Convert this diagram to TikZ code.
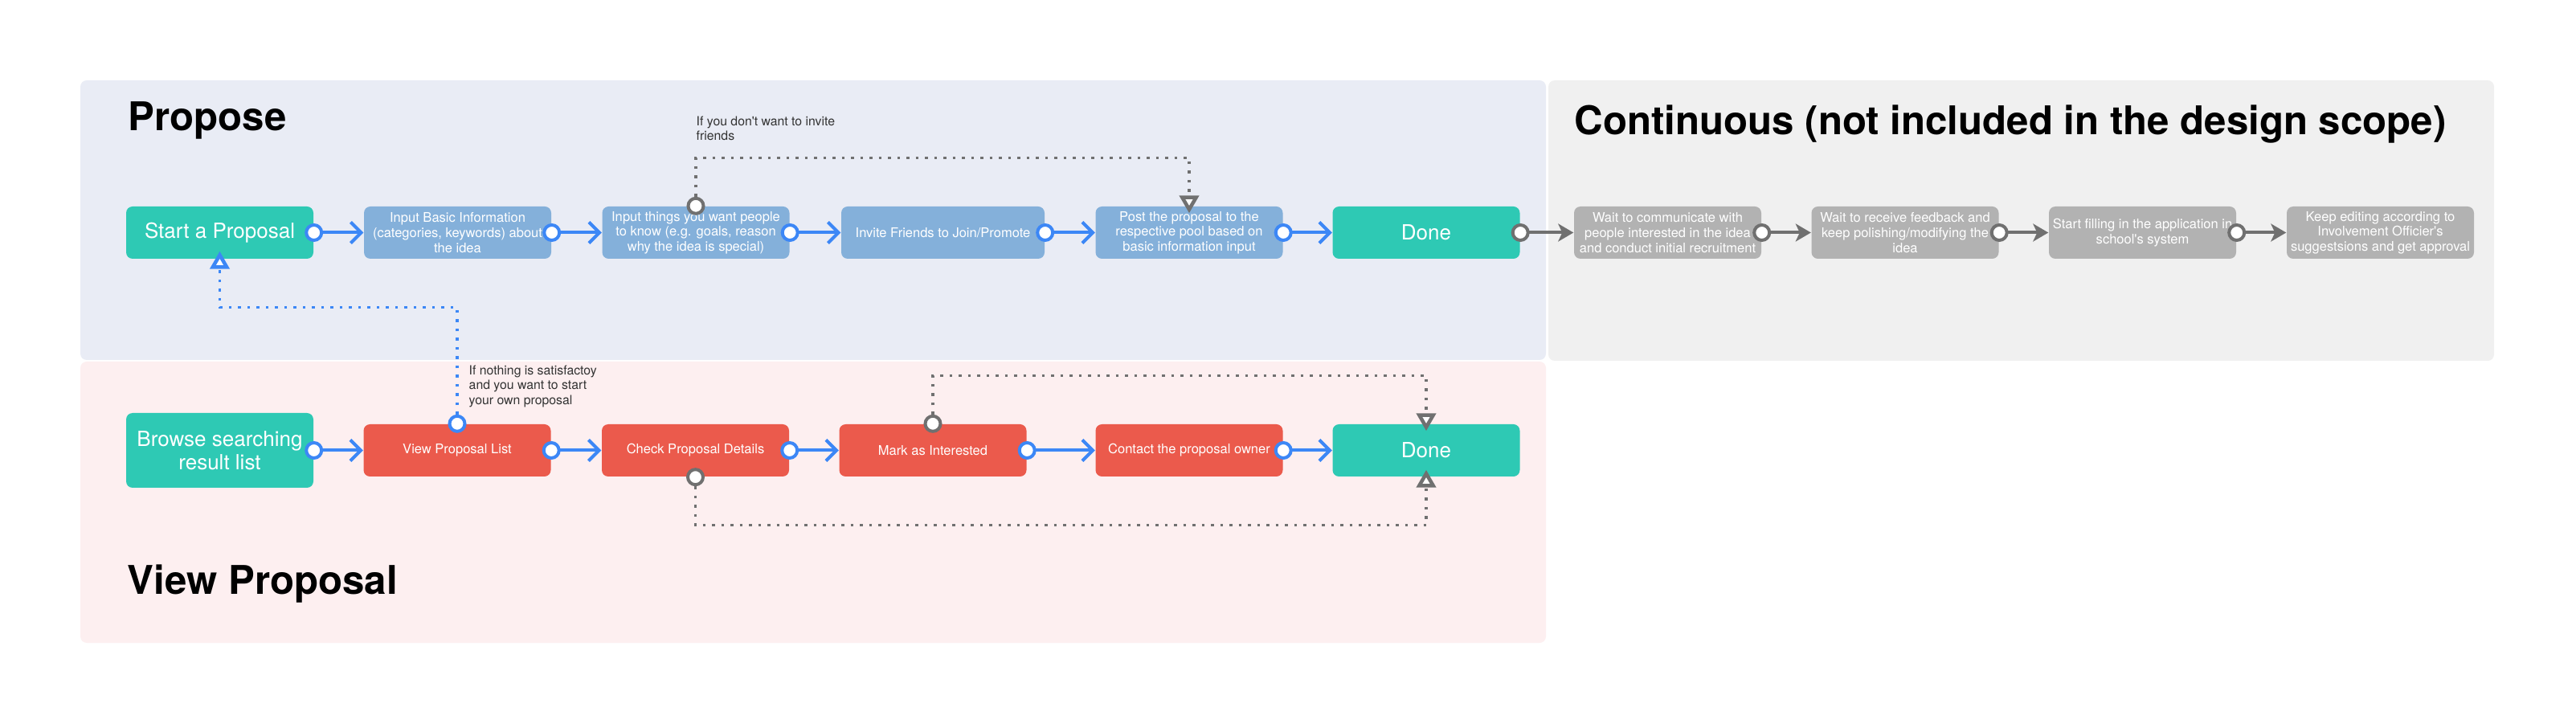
\documentclass[tikz,border=0pt]{standalone}
\usepackage{fontspec}
\setmainfont{TeX Gyre Heros}
\usetikzlibrary{arrows.meta}

\definecolor{proposebg}{HTML}{E9ECF5}
\definecolor{viewbg}{HTML}{FDEFF0}
\definecolor{contbg}{HTML}{F0F0F0}
\definecolor{donegreen}{HTML}{2EC9B4}
\definecolor{stepblue}{HTML}{84B0DA}
\definecolor{stepred}{HTML}{EB5A4C}
\definecolor{stepgrey}{HTML}{B2B2B2}
\definecolor{flowblue}{HTML}{3C87F6}
\definecolor{flowgrey}{HTML}{707070}
\definecolor{notegrey}{HTML}{333333}

\tikzset{
    box/.style={rounded corners=0.8mm, text=white, align=center, inner sep=0.3mm,
        minimum height=6.5mm, minimum width=23.3mm},
    bigbox/.style={box, fill=donegreen, font=\fontsize{7.4}{8.4}\selectfont},
    infobox/.style={box, fill=stepblue, font=\fontsize{4.7}{5.3}\selectfont},
    redbox/.style={box, fill=stepred, font=\fontsize{4.7}{5.3}\selectfont},
    greybox/.style={box, fill=stepgrey, font=\fontsize{4.7}{5.3}\selectfont},
    lanetitle/.style={anchor=base west, inner sep=0pt, font=\fontsize{14}{16}\selectfont\bfseries},
    note/.style={anchor=north west, inner sep=0pt, align=left, text=notegrey,
        font=\fontsize{4.5}{5.3}\selectfont},
    flow/.style={draw=flowblue, line width=0.4mm, -{Straight Barb[length=1.3mm,width=2.6mm]}},
    contflow/.style={draw=flowgrey, line width=0.4mm, -{Stealth[length=1.9mm,width=2.2mm,inset=0.5mm]}},
    loopline/.style={line width=0.35mm, dash pattern=on 0.35mm off 0.8mm},
    backblue/.style={loopline, draw=flowblue, -{Triangle[length=2.2mm,width=2.4mm,fill=white,line width=0.45mm]},
        shorten >=-1mm},
    backgrey/.style={loopline, draw=flowgrey, -{Triangle[length=2.2mm,width=2.4mm,fill=white,line width=0.45mm]},
        shorten >=-0.9mm},
    bport/.style={draw=flowblue, fill=white, line width=0.4mm},
    gport/.style={draw=flowgrey, fill=white, line width=0.4mm},
}

\begin{document}
\begin{tikzpicture}
    \useasboundingbox (0mm,0mm) rectangle (320.6mm,-90.1mm);
    \fill[white] (0mm,0mm) rectangle (320.6mm,-90.1mm);

    \fill[proposebg, rounded corners=0.8mm] (10mm,-10mm) rectangle (192.4mm,-44.8mm);
    \fill[viewbg, rounded corners=0.8mm] (10mm,-45mm) rectangle (192.4mm,-80mm);
    \fill[contbg, rounded corners=0.8mm] (192.7mm,-10mm) rectangle (310.4mm,-44.9mm);

    \node[lanetitle] (proposetitle) at (15.9mm,-16.3mm) {Propose};
    \node[lanetitle] (conttitle) at (195.9mm,-16.8mm) {Continuous (not included in the design scope)};
    \node[lanetitle] (viewtitle) at (15.8mm,-74mm) {View Proposal};

    \node[bigbox] (start) at (27.35mm,-28.95mm) {Start a Proposal};
    \node[infobox] (basic) at (56.95mm,-28.95mm) {Input Basic Information\\(categories, keywords) about\\the idea};
    \node[infobox] (things) at (86.6mm,-28.95mm) {Input things you want people\\to know (e.g. goals, reason\\why the idea is special)};
    \node[infobox, minimum width=25.3mm] (invite) at (117.35mm,-28.95mm) {Invite Friends to Join/Promote};
    \node[infobox] (post) at (148mm,-28.95mm) {Post the proposal to the\\respective pool based on\\basic information input};
    \node[bigbox] (done) at (177.5mm,-28.95mm) {Done};

    \node[greybox] (talk) at (207.55mm,-28.95mm) {Wait to communicate with\\people interested in the idea\\and conduct initial recruitment};
    \node[greybox] (polish) at (237.1mm,-28.95mm) {Wait to receive feedback and\\keep polishing/modifying the\\idea};
    \node[greybox] (apply) at (266.65mm,-28.95mm) {Start filling in the application in\\school\textquotesingle s system};
    \node[greybox] (approve) at (296.25mm,-28.95mm) {Keep editing according to\\Involvement Officier\textquotesingle s\\suggestsions and get approval};

    \node[bigbox, minimum height=9.3mm] (browse) at (27.35mm,-56.05mm) {Browse searching\\result list};
    \node[redbox] (list) at (56.9mm,-56.05mm) {View Proposal List};
    \node[redbox] (check) at (86.55mm,-56.05mm) {Check Proposal Details};
    \node[redbox] (mark) at (116.1mm,-56.05mm) {Mark as Interested};
    \node[redbox] (contact) at (148mm,-56.05mm) {Contact the proposal owner};
    \node[bigbox] (done2) at (177.5mm,-56.05mm) {Done};

    \node[note] (skipnote) at (86.6mm,-14.4mm) {If you don\textquotesingle t want to invite\\friends};
    \node[note] (restartnote) at (58.3mm,-45.4mm) {If nothing is satisfactoy\\and you want to start\\your own proposal};

    \foreach\a/\b in {start/basic,basic/things,things/invite,invite/post,post/done,
        browse/list,list/check,check/mark,mark/contact,contact/done2}
    {   \draw[flow] (\a.east) -- (\b.west);
    }
    \foreach\a/\b in {done/talk,talk/polish,polish/apply,apply/approve}
    {   \draw[contflow] (\a.east) -- (\b.west);
    }

    \draw[backblue] (list.north) |- ([yshift=-6mm]start.south) -- (start.south);
    \draw[backgrey] (things.north) |- ([yshift=6mm]post.north) -- (post.north);
    \draw[backgrey] (mark.north) |- ([yshift=6mm]done2.north) -- (done2.north);
    \draw[backgrey] (check.south) |- ([yshift=-6mm]done2.south) -- (done2.south);

    \foreach\p in {start.east,basic.east,things.east,invite.east,post.east,
        browse.east,list.east,check.east,mark.east,contact.east,list.north}
    {   \draw[bport] (\p) circle (0.95mm);
    }
    \foreach\p in {done.east,talk.east,polish.east,apply.east,things.north,mark.north,check.south}
    {   \draw[gport] (\p) circle (0.95mm);
    }
\end{tikzpicture}
\end{document}
